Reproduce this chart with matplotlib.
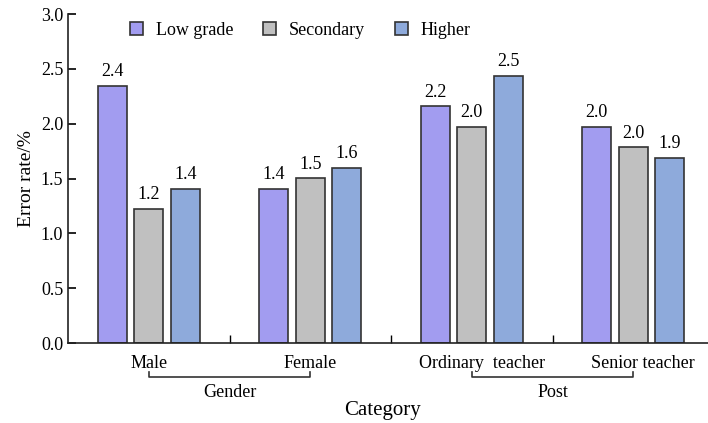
import matplotlib
matplotlib.use("Agg")
import matplotlib.pyplot as plt
import matplotlib.transforms as mtransforms
import numpy as np

plt.rcParams['font.family'] = ['Liberation Serif', 'DejaVu Serif']

categories = ['Male', 'Female', 'Ordinary  teacher', 'Senior teacher']
series_names = ['Low grade', 'Secondary', 'Higher']
low_grade = [2.345, 1.406, 2.157, 1.973]
secondary = [1.224, 1.503, 1.973, 1.785]
higher = [1.406, 1.597, 2.439, 1.691]
# labels printed above the bars (as shown in the original)
low_labels = ['2.4', '1.4', '2.2', '2.0']
secondary_labels = ['1.2', '1.5', '2.0', '2.0']
higher_labels = ['1.4', '1.6', '2.5', '1.9']
groups = ['Gender', 'Post']
group_members = [(0, 1), (2, 3)]

colors = ['#a29cf0', '#c0c0c0', '#8eaadb']
edge = '#333333'

fig = plt.figure(figsize=(7.08, 4.23), dpi=100)
ax = fig.add_axes([68 / 708, 1 - 343 / 423, 646 / 708, 329 / 423])

x = np.arange(len(categories))
width = 0.18
step = 0.227
all_vals = [low_grade, secondary, higher]
all_labels = [low_labels, secondary_labels, higher_labels]
for i, (vals, labs) in enumerate(zip(all_vals, all_labels)):
    pos = x + (i - 1) * step
    bars = ax.bar(pos, vals, width, color=colors[i], edgecolor=edge,
                  linewidth=1.2, label=series_names[i], zorder=2)
    for b, lab in zip(bars, labs):
        ax.annotate(lab, (b.get_x() + b.get_width() / 2, b.get_height()),
                    xytext=(0, 4), textcoords='offset points',
                    ha='center', va='bottom', fontsize=13)

ax.set_xlim(-0.5, len(categories) - 0.5)
ax.set_ylim(0, 3.0)
ax.set_yticks(np.arange(0, 3.01, 0.5))
ax.set_yticklabels([f'{v:.1f}' for v in np.arange(0, 3.01, 0.5)])
ax.set_xticks(x)
ax.set_xticklabels(categories)
ax.set_xticks(x[:-1] + 0.5, minor=True)
ax.tick_params(axis='x', which='major', length=0, labelsize=13, pad=9)
ax.tick_params(axis='x', which='minor', direction='in', length=6, width=1)
ax.tick_params(axis='y', direction='in', length=6, width=1.2, labelsize=13)

# the post labels sit a little right of the bar groups in the original
offset = mtransforms.ScaledTranslation(10 / 100, 0, fig.dpi_scale_trans)
for lab in ax.get_xticklabels()[2:]:
    lab.set_transform(lab.get_transform() + offset)

for s in ['top', 'right']:
    ax.spines[s].set_visible(False)
for s in ['left', 'bottom']:
    ax.spines[s].set_linewidth(1.2)
    ax.spines[s].set_color('#222222')

ax.set_ylabel('Error rate/%', fontsize=14, labelpad=4)

# group brackets under the tick labels
trans = mtransforms.blended_transform_factory(ax.transData, ax.transAxes)
for name, (a, b) in zip(groups, group_members):
    ax.plot([a, a, b, b], [-0.088, -0.103, -0.103, -0.088], color='#333333',
            lw=1.2, transform=trans, clip_on=False)
    ax.text((a + b) / 2, -0.15, name, transform=trans, ha='center',
            va='center', fontsize=13)

ax.text(1.45, -0.204, 'Category', transform=trans, ha='center', va='center',
        fontsize=15)

ax.legend(loc='upper left', bbox_to_anchor=(0.096, 0.975), ncol=3,
          frameon=False, fontsize=13, handlelength=0.72, handleheight=0.72,
          handletextpad=0.7, columnspacing=1.65, borderaxespad=0, borderpad=0)

fig.savefig('out.png', dpi=100)
